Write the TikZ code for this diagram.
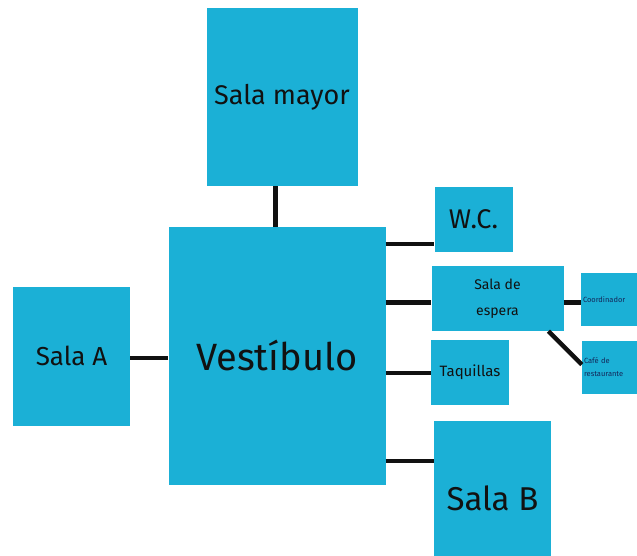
\documentclass[tikz,border=0pt]{standalone}
\usepackage{fontspec}
\setmainfont{Fira Sans}
\definecolor{boxblue}{RGB}{27,176,214}
\definecolor{ink}{RGB}{17,17,17}
\definecolor{smallink}{RGB}{20,40,90}
\begin{document}
\begin{tikzpicture}[x=1pt,y=-1pt,
  room/.style={fill=boxblue,draw=none,inner sep=0pt,anchor=center,text=ink,align=center},
  tiny/.style={room,text width=75pt,align=left,text=smallink,font=\fontsize{7.5}{13}\selectfont},
  link/.style={draw=ink,line width=4.5pt}]
\fill[white] (0,0) rectangle (637,556);
\useasboundingbox (0,0) rectangle (637,556);
\node[room,minimum width=151pt,minimum height=178pt,font=\fontsize{27}{30}\selectfont] (mayor) at (282,97) {Sala mayor};
\node[room,minimum width=217pt,minimum height=257pt,font=\fontsize{38}{44}\selectfont] (vest) at (277,356) {Vestíbulo};
\node[room,minimum width=117pt,minimum height=139pt,font=\fontsize{26}{30}\selectfont] (salaA) at (71.5,356) {Sala A};
\node[room,minimum width=78pt,minimum height=65pt,font=\fontsize{27}{30}\selectfont] (wc) at (473.5,219.5) {W.C.};
\node[room,minimum width=132pt,minimum height=65pt,font=\fontsize{14}{26}\selectfont] (espera) at (497.5,298.5) {Sala de\\espera};
\node[room,minimum width=78pt,minimum height=65pt,font=\fontsize{15}{18}\selectfont] (taq) at (470,372.5) {Taquillas};
\node[room,minimum width=117pt,minimum height=154pt,font=\fontsize{33}{38}\selectfont] (salaB) at (492.5,498) {Sala B};
\node[tiny,minimum width=79pt,minimum height=53pt] (coord) at (620.5,299.5) {Coordinador};
\node[tiny,minimum width=79pt,minimum height=53pt] (cafe) at (621.5,367.5) {Café de\\restaurante};
\draw[link] (mayor.south -| 275.5,0) -- (vest.north -| 275.5,0);
\draw[link] (salaA.east |- 0,358) -- (vest.west |- 0,358);
\draw[link] (vest.east |- 0,244) -- (wc.west |- 0,244);
\draw[link] (vest.east |- 0,302.5) -- (espera.west |- 0,302.5);
\draw[link] (vest.east |- 0,373) -- (taq.west |- 0,373);
\draw[link] (vest.east |- 0,461) -- (salaB.west |- 0,461);
\draw[link] (espera.east |- 0,302.5) -- (coord.west |- 0,302.5);
\draw[link] (espera.south -| 548.5,0) -- (cafe.west |- 0,364.5);
\end{tikzpicture}
\end{document}
